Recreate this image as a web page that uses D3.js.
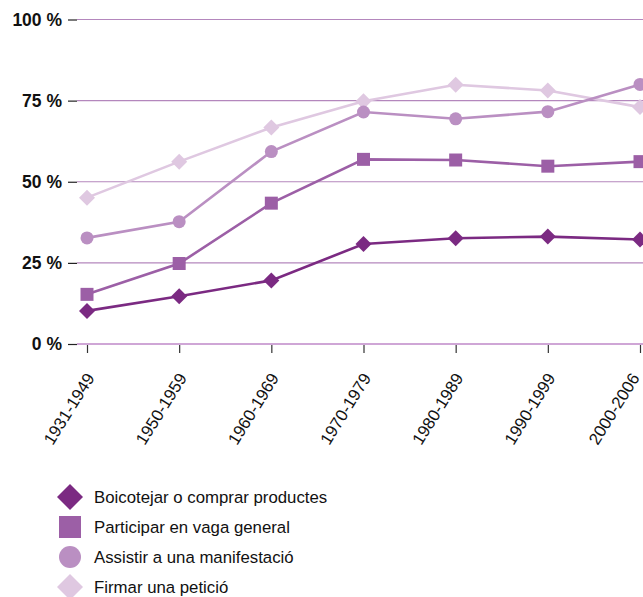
<!DOCTYPE html>
<html><head><meta charset="utf-8">
<script src="https://cdn.jsdelivr.net/npm/d3@7"></script>
<style>body{margin:0;background:#fff}svg{display:block}text{font-family:"Liberation Sans",Arial,sans-serif}</style>
</head><body>
<svg id="c" width="643" height="597"></svg>
<script>
const categories = ["1931-1949","1950-1959","1960-1969","1970-1979","1980-1989","1990-1999","2000-2006"];
const boicot = [10.2, 14.7, 19.6, 30.8, 32.6, 33.1, 32.2];
const vaga = [15.3, 24.8, 43.4, 56.9, 56.7, 54.8, 56.2];
const manifestacio = [32.7, 37.7, 59.3, 71.5, 69.4, 71.6, 80.0];
const peticio = [45.1, 56.2, 66.7, 74.8, 79.9, 78.1, 73.0];
const yTicks = [0, 25, 50, 75, 100];
const seriesNames = ["Boicotejar o comprar productes","Participar en vaga general","Assistir a una manifestació","Firmar una petició"];
const seriesColors = ["#7b2a82","#9c5fa6","#ba8fc2","#dfc8e1"];
const seriesShapes = ["diamond","square","circle","diamond"];
const seriesData = [boicot, vaga, manifestacio, peticio];

const svg = d3.select("#c");
const x = d3.scalePoint().domain(categories).range([87, 640]);
const y = d3.scaleLinear().domain([0, 100]).range([344, 19.5]);

// grid
svg.append("g").selectAll("line").data(yTicks).join("line")
  .attr("x1", 77).attr("x2", 643)
  .attr("y1", d => y(d)).attr("y2", d => y(d))
  .attr("stroke", d => d === 0 ? "#cfa6d6" : "#b487bd")
  .attr("stroke-width", d => d === 0 ? 2 : 1.2);

// y axis
const ya = svg.append("g").attr("transform", "translate(77,0)")
  .call(d3.axisLeft(y).tickValues(yTicks).tickSize(9).tickPadding(6).tickFormat(d => d + " %"));
ya.select(".domain").remove();
ya.selectAll("line").attr("stroke", "#222").attr("stroke-width", 1.2);
ya.selectAll("text").attr("font-size", 17.5).attr("font-weight", "bold").attr("fill", "#111");

// x axis
const xa = svg.append("g").attr("transform", "translate(0,345)")
  .call(d3.axisBottom(x).tickSize(8).tickPadding(4));
xa.select(".domain").remove();
xa.selectAll("line").attr("stroke", "#333").attr("stroke-width", 1.2);
xa.selectAll("text")
  .attr("font-size", 16.8).attr("fill", "#111")
  .attr("text-anchor", "end").attr("dy", null).attr("y", 0)
  .attr("transform", (d, i) => `translate(${i === categories.length - 1 ? -5 : 3},30) rotate(-58)`)
  .attr("dominant-baseline", "central");

function shapePath(shape, size) {
  if (shape === "diamond") { const r = size; return `M0,${-r}L${r},0L0,${r}L${-r},0Z`; }
  if (shape === "square") { const r = size; return `M${-r},${-r}H${r}V${r}H${-r}Z`; }
  return d3.arc()({innerRadius:0, outerRadius:size, startAngle:0, endAngle:2*Math.PI});
}
const markerSize = {diamond: 8, square: 6.5, circle: 6.5};

// draw series back to front: lightest first
const order = [3, 2, 1, 0];
const line = d3.line().x((d, i) => x(categories[i])).y(d => y(d));
order.forEach(k => {
  const g = svg.append("g");
  g.append("path").datum(seriesData[k]).attr("d", line)
    .attr("fill", "none").attr("stroke", seriesColors[k]).attr("stroke-width", 2.6);
  g.selectAll("path.m").data(seriesData[k]).join("path").attr("class", "m")
    .attr("transform", (d, i) => `translate(${x(categories[i])},${y(d)})`)
    .attr("d", shapePath(seriesShapes[k], markerSize[seriesShapes[k]]))
    .attr("fill", seriesColors[k]);
});

// legend
const legendSize = {diamond: 13, square: 11, circle: 11};
const lg = svg.append("g");
seriesNames.forEach((name, k) => {
  const cy = 497 + k * 30;
  lg.append("path").attr("transform", `translate(70,${cy})`)
    .attr("d", shapePath(seriesShapes[k], legendSize[seriesShapes[k]]))
    .attr("fill", seriesColors[k]);
  lg.append("text").attr("x", 94).attr("y", cy).attr("dy", "0.36em")
    .attr("font-size", 16.8).attr("fill", "#111").text(name);
});
</script>
</body></html>
